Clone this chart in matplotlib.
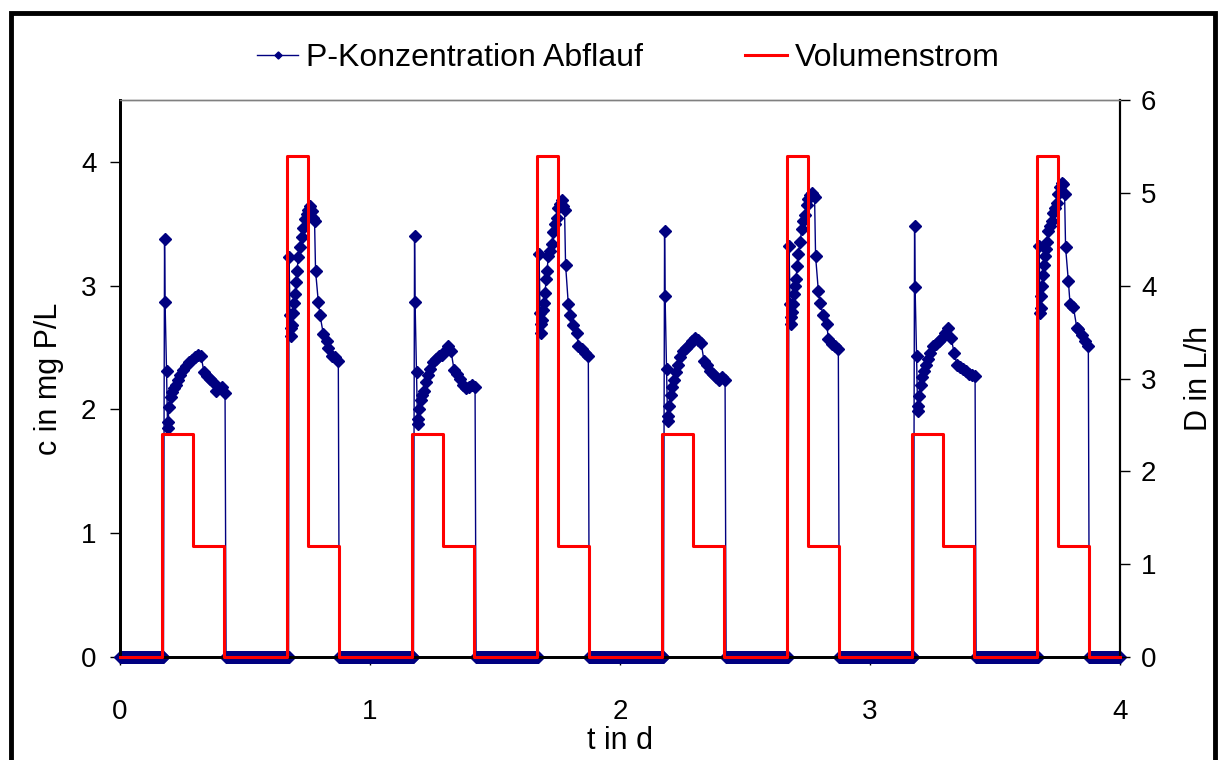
import numpy as np
import matplotlib.pyplot as plt
from matplotlib.patches import Rectangle

plt.rcParams['font.family'] = ['Liberation Sans', 'DejaVu Sans']

# P-Konzentration: Zeitpunkte der Messwerte innerhalb eines Tages (d)
t_small = [0.178, 0.180, 0.186, 0.190, 0.192, 0.196, 0.202, 0.208, 0.216,
           0.224, 0.232, 0.240, 0.252, 0.264, 0.276, 0.288, 0.300, 0.312,
           0.324, 0.336, 0.348, 0.360, 0.372, 0.384, 0.396, 0.408, 0.420]
t_big = [0.676, 0.680, 0.682, 0.684, 0.688, 0.692, 0.696, 0.700, 0.704,
         0.708, 0.713, 0.720, 0.727, 0.733, 0.740, 0.747, 0.753, 0.760,
         0.767, 0.773, 0.778, 0.782, 0.793, 0.800, 0.813, 0.827, 0.833,
         0.847, 0.860, 0.873]

c_small = [
    [3.38, 2.87, 2.31, 1.85, 1.90, 2.02, 2.10, 2.14, 2.17, 2.20, 2.24, 2.28, 2.32, 2.35,
     2.38, 2.40, 2.42, 2.44, 2.43, 2.30, 2.27, 2.25, 2.22, 2.15, 2.17, 2.18, 2.13],
    [3.40, 2.87, 2.30, 1.88, 1.92, 2.00, 2.08, 2.12, 2.15, 2.22, 2.28, 2.33, 2.38, 2.41,
     2.43, 2.44, 2.47, 2.51, 2.47, 2.32, 2.29, 2.25, 2.20, 2.17, 2.18, 2.20, 2.18],
    [3.44, 2.92, 2.33, 1.91, 1.95, 2.03, 2.12, 2.18, 2.24, 2.30, 2.36, 2.42, 2.47, 2.50,
     2.52, 2.55, 2.58, 2.56, 2.54, 2.39, 2.36, 2.31, 2.29, 2.26, 2.24, 2.26, 2.24],
    [3.48, 2.99, 2.43, 1.99, 2.03, 2.11, 2.20, 2.26, 2.31, 2.36, 2.41, 2.46, 2.51, 2.53,
     2.55, 2.58, 2.62, 2.66, 2.58, 2.46, 2.36, 2.34, 2.33, 2.31, 2.29, 2.28, 2.27],
]
c_big = [
    [3.23, 2.76, 2.66, 2.59, 2.68, 2.78, 2.86, 2.93, 3.03, 3.12, 3.23, 3.31, 3.39, 3.47, 3.54,
     3.58, 3.61, 3.64, 3.60, 3.55, 3.52, 3.12, 2.87, 2.76, 2.61, 2.55, 2.50, 2.43, 2.42, 2.39],
    [3.26, 2.78, 2.69, 2.62, 2.72, 2.80, 2.86, 2.94, 3.05, 3.12, 3.24, 3.28, 3.34, 3.43, 3.50,
     3.55, 3.63, 3.66, 3.69, 3.64, 3.61, 3.17, 2.85, 2.76, 2.68, 2.62, 2.51, 2.49, 2.46, 2.43],
    [3.32, 2.85, 2.75, 2.69, 2.79, 2.85, 2.93, 3.00, 3.05, 3.16, 3.26, 3.35, 3.46, 3.52, 3.57,
     3.65, 3.70, 3.73, 3.75, 3.73, 3.72, 3.24, 2.96, 2.86, 2.76, 2.69, 2.57, 2.53, 2.51, 2.49],
    [3.32, 2.78, 2.82, 2.92, 3.00, 3.09, 3.17, 3.24, 3.30, 3.35, 3.44, 3.48, 3.52, 3.59, 3.63,
     3.67, 3.74, 3.80, 3.83, 3.82, 3.74, 3.31, 3.04, 2.85, 2.83, 2.66, 2.65, 2.60, 2.55, 2.51],
]

# Messintervall bei Stillstand (kein Abfluss -> 0)
dt_zero = 1 / 288
off_windows = [(0.0, 0.176), (0.424, 0.674), (0.877, 1.0)]

# Volumenstrom: Schaltzeiten innerhalb eines Tages und Stufenwerte (L/h)
t_flow = [0.0, 0.1667, 0.2917, 0.4167, 0.6667, 0.75, 0.875]
d_flow = [0.0, 2.4, 1.2, 0.0, 5.4, 1.2, 0.0]
n_days = 4

# Zeitreihe zusammensetzen
t_c, c_val = [], []
for d in range(n_days):
    a, b = off_windows[0]
    tz = np.arange(d + a, d + b, dt_zero)
    t_c += list(tz); c_val += [0.0] * len(tz)
    t_c += [d + x for x in t_small]; c_val += c_small[d]
    a, b = off_windows[1]
    tz = np.arange(d + a, d + b, dt_zero)
    t_c += list(tz); c_val += [0.0] * len(tz)
    t_c += [d + x for x in t_big]; c_val += c_big[d]
    a, b = off_windows[2]
    tz = np.arange(d + a, d + b + 1e-9, dt_zero)
    t_c += list(tz); c_val += [0.0] * len(tz)

t_q, d_q = [], []
for d in range(n_days):
    t_q += [d + x for x in t_flow]; d_q += d_flow
t_q.append(n_days); d_q.append(0.0)

fig = plt.figure(figsize=(12.2, 7.6), dpi=100)
ax = fig.add_axes([0.0984, 0.1355, 0.8197, 0.7329])
ax2 = ax.twinx()

l1, = ax.plot(t_c, c_val, color='#000080', lw=1, marker='D', ms=6,
              label='P-Konzentration Abflauf', clip_on=False)
l2, = ax2.step(t_q, d_q, where='post', color='#ff0000', lw=2.2, label='Volumenstrom',
               zorder=3, clip_on=False)

ax.set_xlim(0, 4)
ax.set_ylim(0, 4.5)
ax2.set_ylim(0, 6)
ax.set_xticks([0, 1, 2, 3, 4])
ax.set_yticks([0, 1, 2, 3, 4])
ax2.set_yticks([0, 1, 2, 3, 4, 5, 6])

ax.tick_params(axis='x', labelsize=20, length=6, width=1, pad=24)
ax.tick_params(axis='y', labelsize=20, length=7, width=1, pad=10)
ax2.tick_params(axis='y', labelsize=20, length=7, width=1, pad=8)

for a in (ax, ax2):
    a.spines['top'].set_color('#808080')
    a.spines['top'].set_linewidth(1)
    a.spines['left'].set_linewidth(2)
    a.spines['bottom'].set_linewidth(2)
    a.spines['right'].set_linewidth(1.5)

ax.set_xlabel('t in d', fontsize=22, labelpad=1)
ax.set_ylabel('c in mg P/L', fontsize=22, labelpad=12)
ax2.set_ylabel('D in L/h', fontsize=22, labelpad=20)

fig.legend(handles=[l1, l2], loc='center', bbox_to_anchor=(0.515, 0.924), ncol=2,
           frameon=False, fontsize=23, handlelength=1.3, handletextpad=0.25,
           columnspacing=3.2, markerscale=0.6)

fig.patches.append(Rectangle((11 / 1220, -0.05), 1204 / 1220, 1.05 - 13 / 760,
                             transform=fig.transFigure, fill=False, lw=3.5, ec='black'))

fig.savefig('out.png', dpi=100)
